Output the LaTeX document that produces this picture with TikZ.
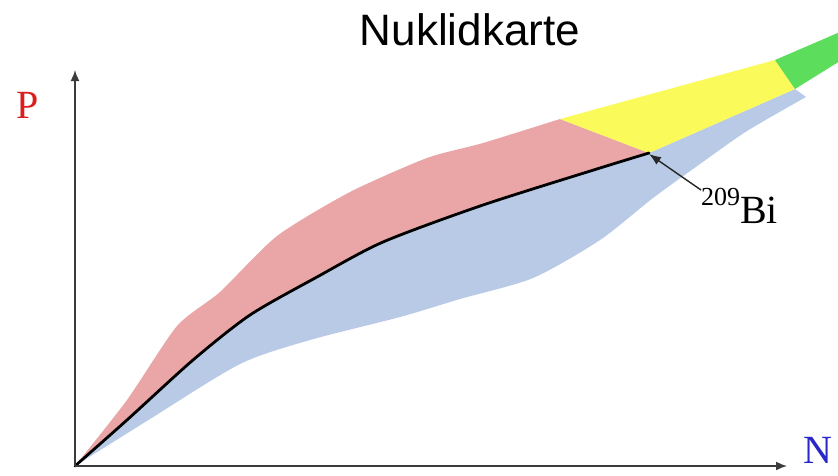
\documentclass[tikz,border=0pt]{standalone}
\usepackage{fontspec}
\setmainfont{Liberation Serif}
\newfontfamily\sansf{Liberation Sans}
\usetikzlibrary{arrows.meta}
\definecolor{protonred}{RGB}{234,166,166}
\definecolor{neutronblue}{RGB}{184,202,230}
\definecolor{alphayellow}{RGB}{250,250,90}
\definecolor{fissgreen}{RGB}{92,222,92}
\definecolor{axisgray}{RGB}{60,60,60}
\definecolor{plabel}{RGB}{220,30,30}
\definecolor{nlabel}{RGB}{40,40,200}
\tikzset{
  axisline/.style={draw=axisgray, line width=1.6pt, -{Latex[length=11pt,width=9pt]}},
  stabline/.style={draw=black, line width=2.8pt, line cap=round},
  axislabel/.style={font=\fontsize{40}{40}\selectfont, inner sep=0pt},
  pointer/.style={draw=black!85, line width=1.4pt, -{Latex[length=12pt,width=9pt]}},
}
\begin{document}
\begin{tikzpicture}[x=1pt, y=-1pt]
\useasboundingbox (0,0) rectangle (838,475);
\fill[white] (0,0) rectangle (838,475);
% key points
\coordinate (O) at (75,466);
\coordinate (ytip) at (75,70);
\coordinate (xtip) at (787,466);
\coordinate (bi209) at (649,154);
\coordinate (bitail) at (701,190);
% blue (neutron-rich) region
\fill[neutronblue] (75,466)
  plot[smooth, tension=0.45] coordinates {(75,466) (127,420) (193,360) (250,315) (317,277) (383,242) (483,205) (600,168) (649,153)}
  -- (795,89) -- (806,97)
  -- plot[smooth, tension=0.45] coordinates {(806,97) (747,131) (700,164) (653,198) (600,240) (533,278) (460,299) (400,317) (310,340) (240,364) (150,419) (75,466)}
  -- cycle;
% red (proton-rich) region
\fill[protonred] (75,466)
  plot[smooth, tension=0.4] coordinates {(75,466) (127,400) (177,326) (220,292) (277,236) (350,192) (427,158) (483,143) (560,119)}
  -- (649,153)
  -- plot[smooth, tension=0.45] coordinates {(649,153) (600,168) (483,205) (383,242) (317,277) (250,315) (193,360) (127,420) (75,466)}
  -- cycle;
% yellow and green regions
\fill[alphayellow] (560,119) -- (775,60) -- (795,89) -- (649,153) -- cycle;
\fill[fissgreen] (775,60) -- (840,32) -- (840,61) -- (795,89) -- cycle;
% line of stability
\draw[stabline] plot[smooth, tension=0.45] coordinates {(75,466) (127,420) (193,360) (250,315) (317,277) (383,242) (483,205) (600,168) (649,153)};
% axes
\draw[axisline] (O) -- (ytip);
\draw[axisline] (O) -- (xtip);
% labels
\node[axislabel, text=plabel, anchor=base] (P) at (28,118) {P};
\node[axislabel, text=nlabel, anchor=base west] (N) at (803,463) {N};
\node[font=\sansf\fontsize{44}{44}\selectfont, inner sep=0pt, anchor=base] (title) at (470,45) {Nuklidkarte};
\node[inner sep=0pt, anchor=base west] (bi) at (701,223) {\raisebox{18pt}{\fontsize{26}{26}\selectfont 209}\fontsize{40}{40}\selectfont Bi};
\draw[pointer] (bitail) -- (bi209);
\end{tikzpicture}
\end{document}
